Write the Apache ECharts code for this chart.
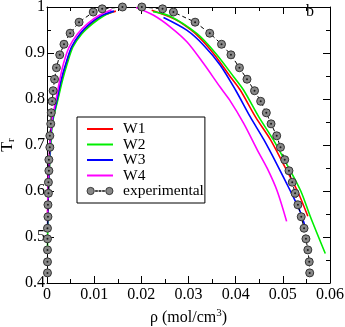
<!DOCTYPE html>
<html>
<head>
<meta charset="utf-8">
<script src="https://cdn.jsdelivr.net/npm/echarts@6/dist/echarts.min.js"></script>
<style>html,body{margin:0;padding:0;background:#fff}#c{width:345px;height:327px}</style>
</head>
<body>
<div id="c"></div>
<script>
// Tick labels
var xTicks = [0, 0.01, 0.02, 0.03, 0.04, 0.05, 0.06];
var yTicks = [0.4, 0.5, 0.6, 0.7, 0.8, 0.9, 1];
var seriesNames = ['W1', 'W2', 'W3', 'W4', 'experimental'];

// Experimental (shared temperatures, liquid/vapour densities)
var expT = [1.0, 0.996, 0.989, 0.967, 0.943, 0.919, 0.896, 0.868, 0.843, 0.818, 0.795, 0.77, 0.746, 0.72, 0.695, 0.668, 0.644, 0.619, 0.595, 0.57, 0.544, 0.519, 0.496, 0.472, 0.446, 0.422];
var expVap = [0.016, 0.0117, 0.0098, 0.0068, 0.0049, 0.0036, 0.0027, 0.002, 0.0016, 0.0013, 0.0011, 0.0009, 0.0008, 0.0006, 0.0006, 0.0004, 0.0004, 0.0003, 0.0003, 0.0002, 0.0002, 0.0001, 0.0001, 0.0001, 0.0001, 0.0001];
var expLiq = [0.0201, 0.0245, 0.0268, 0.0314, 0.0345, 0.037, 0.039, 0.0408, 0.0424, 0.044, 0.0453, 0.0465, 0.0475, 0.0487, 0.0495, 0.0504, 0.0513, 0.052, 0.0526, 0.0532, 0.0539, 0.0545, 0.0549, 0.0553, 0.0556, 0.0557];

// W1
var w1VapT = [0.545, 0.6, 0.7, 0.75, 0.798, 0.841, 0.877, 0.913, 0.942, 0.964, 0.981, 0.991];
var w1Vap  = [0.0001, 0.0003, 0.0007, 0.0011, 0.0022, 0.0031, 0.0041, 0.0053, 0.0072, 0.0094, 0.0118, 0.0146];
var w1LiqT = [0.993, 0.978, 0.967, 0.939, 0.899, 0.848, 0.819, 0.761, 0.711, 0.657, 0.6, 0.545];
var w1Liq  = [0.0222, 0.0261, 0.0282, 0.0318, 0.0353, 0.0389, 0.041, 0.0442, 0.0474, 0.0502, 0.0531, 0.0553];
// W2
var w2VapT = [0.464, 0.6, 0.7, 0.75, 0.798, 0.841, 0.877, 0.913, 0.942, 0.964, 0.98, 0.99];
var w2Vap  = [0.0001, 0.0003, 0.0008, 0.0012, 0.0023, 0.0033, 0.0043, 0.0055, 0.0074, 0.0097, 0.0119, 0.014];
var w2LiqT = [0.99, 0.98, 0.942, 0.9, 0.848, 0.819, 0.761, 0.711, 0.657, 0.6, 0.545, 0.464];
var w2Liq  = [0.0225, 0.0261, 0.0318, 0.0357, 0.0396, 0.0417, 0.0449, 0.048, 0.0509, 0.0538, 0.0558, 0.059];
// W3
var w3VapT = [0.512, 0.6, 0.7, 0.75, 0.798, 0.841, 0.877, 0.913, 0.942, 0.964, 0.981, 0.991];
var w3Vap  = [0.0001, 0.0003, 0.0007, 0.0011, 0.0021, 0.003, 0.004, 0.0052, 0.007, 0.0091, 0.0115, 0.0142];
var w3LiqT = [0.977, 0.949, 0.917, 0.874, 0.819, 0.761, 0.711, 0.657, 0.6, 0.552, 0.512];
var w3Liq  = [0.0247, 0.0297, 0.0332, 0.0367, 0.04, 0.0431, 0.046, 0.0488, 0.0516, 0.0538, 0.055];
// W4
var w4VapT = [0.534, 0.6, 0.7, 0.75, 0.798, 0.841, 0.877, 0.913, 0.942, 0.964, 0.982, 0.994];
var w4Vap  = [0.0001, 0.0002, 0.0006, 0.001, 0.0019, 0.0027, 0.0035, 0.0047, 0.0065, 0.0086, 0.0111, 0.0137];
var w4LiqT = [0.999, 0.982, 0.957, 0.924, 0.877, 0.826, 0.798, 0.747, 0.689, 0.649, 0.6, 0.534];
var w4Liq  = [0.0189, 0.0226, 0.0261, 0.0297, 0.0332, 0.0367, 0.0387, 0.0417, 0.0446, 0.0467, 0.0488, 0.0508];

function pairs(xs, ys) { return xs.map(function (x, i) { return [x, ys[i]]; }); }

var colors = { W1: '#ff0000', W2: '#00ee00', W3: '#0000ff', W4: '#ff00ff' };
var FONT = '"Liberation Serif", "Times New Roman", serif';

function modelSeries(name, xs, ys) {
  return {
    name: name, type: 'line', data: pairs(xs, ys), smooth: 0.3,
    symbol: 'none', showSymbol: false,
    lineStyle: { color: colors[name], width: 1.6 },
    itemStyle: { color: colors[name] },
    xAxisIndex: 0, yAxisIndex: 0, silent: true, animation: false
  };
}
function expSeries(xs, ys) {
  return {
    name: 'experimental', type: 'line', data: pairs(xs, ys),
    symbol: 'circle', symbolSize: 8, showSymbol: true,
    lineStyle: { color: '#000', width: 1, type: [4, 3] },
    itemStyle: { color: '#888', borderColor: '#333', borderWidth: 1 },
    z: 5, animation: false
  };
}
function dotSeries(xs, ys) {
  return {
    type: 'scatter', data: pairs(xs, ys), symbol: 'circle', symbolSize: 2,
    itemStyle: { color: '#000' }, z: 6, silent: true, animation: false
  };
}

var series = [
  modelSeries('W1', w1Vap, w1VapT), modelSeries('W1', w1Liq, w1LiqT),
  modelSeries('W2', w2Vap, w2VapT), modelSeries('W2', w2Liq, w2LiqT),
  modelSeries('W3', w3Vap, w3VapT), modelSeries('W3', w3Liq, w3LiqT),
  modelSeries('W4', w4Vap, w4VapT), modelSeries('W4', w4Liq, w4LiqT),
  expSeries(expVap, expT), expSeries(expLiq, expT),
  dotSeries(expVap, expT), dotSeries(expLiq, expT)
];

function axisBase(isX, pos, showLabel) {
  var ticks = isX ? xTicks : yTicks;
  return {
    type: 'value', position: pos,
    min: ticks[0], max: ticks[ticks.length - 1], interval: isX ? 0.01 : 0.1,
    axisLine: { show: true, onZero: false, lineStyle: { color: '#000', width: 1 } },
    axisTick: { show: true, inside: true, length: 7, lineStyle: { color: '#000' } },
    minorTick: { show: true, splitNumber: 2, length: 4, lineStyle: { color: '#000' } },
    splitLine: { show: false },
    axisLabel: { show: showLabel, color: '#000', fontSize: 16, fontFamily: FONT, margin: isX ? 4 : 2 }
  };
}

var xMain = axisBase(true, 'bottom', true);
xMain.name = '{a|ρ (mol/cm}{s|3}{a|)}';
xMain.nameLocation = 'middle';
xMain.nameGap = 21;
xMain.nameTextStyle = {
  rich: {
    a: { fontSize: 16, fontFamily: FONT, color: '#000' },
    s: { fontSize: 11, fontFamily: FONT, color: '#000', padding: [0, 0, 8, 0] }
  }
};
var yMain = axisBase(false, 'left', true);
yMain.name = '{a|T}{s|r}';
yMain.nameLocation = 'middle';
yMain.nameMoveOverlap = false;
yMain.nameGap = 30;
yMain.nameRotate = 90;
yMain.nameTextStyle = {
  rich: {
    a: { fontSize: 16, fontFamily: FONT, color: '#000' },
    s: { fontSize: 11, fontFamily: FONT, color: '#000', padding: [8, 0, 0, 0] }
  }
};

// legend icon for the experimental entry: circle - - - circle
var expIcon = 'path://M0.5,6a3.5,3.5 0 1,0 7,0a3.5,3.5 0 1,0 -7,0Z' +
  'M18.5,6a3.5,3.5 0 1,0 7,0a3.5,3.5 0 1,0 -7,0Z' +
  'M8.5,5.6h2.2v0.8h-2.2Z M11.9,5.6h2.2v0.8h-2.2Z M15.3,5.6h2.2v0.8h-2.2Z';

var legendData = seriesNames.map(function (n) {
  return n === 'experimental'
    ? { name: n, icon: expIcon, itemStyle: { color: '#888', borderColor: '#222', borderWidth: 0.8 } }
    : { name: n, itemStyle: { opacity: 0 } };
});

var chart = echarts.init(document.getElementById('c'), null, { renderer: 'canvas' });
chart.setOption({
  animation: false,
  backgroundColor: '#fff',
  grid: { left: 47, right: 15, top: 7, bottom: 44, containLabel: false, outerBoundsMode: 'none' },
  xAxis: [xMain, axisBase(true, 'top', false)],
  yAxis: [yMain, axisBase(false, 'right', false)],
  legend: {
    data: legendData,
    orient: 'vertical', left: 77, top: 117,
    backgroundColor: '#fff', borderColor: '#000', borderWidth: 1, borderRadius: 0,
    padding: [4, 1, 4, 9],
    itemWidth: 26, itemHeight: 12, itemGap: -0.5,
    textStyle: { fontSize: 15.5, lineHeight: 14, fontFamily: FONT, color: '#000', padding: [0, 0, 0, 5] },
    selectedMode: false
  },
  graphic: [{
    type: 'text', left: 306, top: 4,
    style: { text: 'b', font: '16px ' + FONT, fill: '#000' }
  }],
  series: series
});
</script>
</body>
</html>
